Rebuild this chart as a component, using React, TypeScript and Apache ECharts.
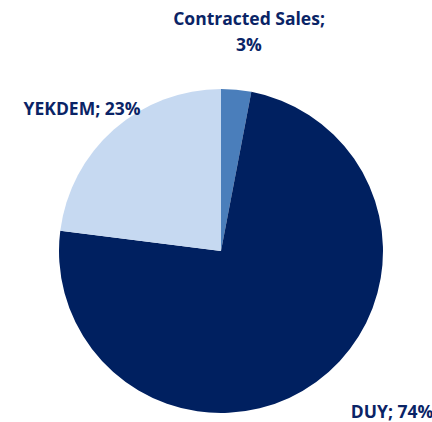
import React, { useEffect, useRef } from "react";
import * as echarts from "echarts";

const categories = ["Contracted Sales", "DUY", "YEKDEM"];
const values = [3, 74, 23];
const colors = ["#4a7ebb", "#002060", "#c6d9f1"];
const labelTexts = ["Contracted Sales;\n3%", "DUY; 74%", "YEKDEM; 23%"];

const labelPos = [
  { x: 249, y: 31, align: "center" },
  { x: 392, y: 411, align: "center" },
  { x: 82, y: 108, align: "center" },
];

export default function App() {
  const ref = useRef<HTMLDivElement>(null);
  useEffect(() => {
    document.body.style.margin = "0";
    const chart = echarts.init(ref.current!, null, { renderer: "svg" });
    chart.setOption({
      animation: false,
      backgroundColor: "#ffffff",
      series: [
        {
          type: "pie",
          center: [221, 251],
          radius: [0, 162],
          startAngle: 90,
          clockwise: true,
          silent: true,
          data: categories.map((c, i) => ({
            name: c,
            value: values[i],
            itemStyle: { color: colors[i] },
          })),
          label: {
            show: true,
            position: "outside",
            formatter: (p: any) => labelTexts[p.dataIndex],
            fontFamily: "Open Sans",
            fontWeight: "bold",
            fontSize: 17.5,
            lineHeight: 26,
            color: "#0a2466",
            align: "center",
            overflow: "none",
          },
          labelLine: { show: false },
          labelLayout: (p: any) => ({
            x: labelPos[p.dataIndex].x,
            y: labelPos[p.dataIndex].y,
            align: labelPos[p.dataIndex].align,
            verticalAlign: "middle",
          }),
        },
      ],
    });
    return () => chart.dispose();
  }, []);
  return <div ref={ref} style={{ width: 432, height: 422 }} />;
}
